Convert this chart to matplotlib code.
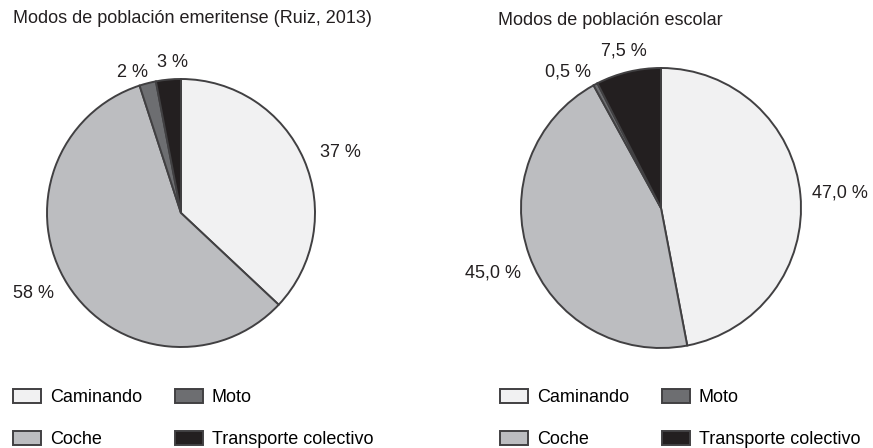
import numpy as np
import matplotlib.pyplot as plt

plt.rcParams['font.family'] = ['Liberation Sans', 'DejaVu Sans']

# datos
categorias = ['Caminando', 'Coche', 'Moto', 'Transporte colectivo']
emeritense = [37, 58, 2, 3]
escolar = [47.0, 45.0, 0.5, 7.5]
etiquetas_emeritense = ['37 %', '58 %', '2 %', '3 %']
etiquetas_escolar = ['47,0 %', '45,0 %', '0,5 %', '7,5 %']
colores = ['#f1f1f2', '#bcbdc0', '#6d6e71', '#231f20']

W, H = 873, 448
fig = plt.figure(figsize=(W / 100, H / 100), dpi=100)
ax = fig.add_axes([0, 0, 1, 1])


def pastel(valores, etiquetas, centro, radio, desplaz, titulo, tx, ty, lx):
    cx, cy = centro[0], H - centro[1]
    wedges, _ = ax.pie(valores, colors=colores, startangle=90, counterclock=False,
                       center=(cx, cy), radius=radio,
                       wedgeprops=dict(edgecolor='#414042', linewidth=1.4))
    # etiquetas de porcentaje, desde el borde de cada sector
    for w, txt, (dx, dy) in zip(wedges, etiquetas, desplaz):
        ang = np.deg2rad((w.theta1 + w.theta2) / 2)
        borde = (cx + radio * np.cos(ang), cy + radio * np.sin(ang))
        ax.annotate(txt, borde, xytext=(dx, dy), textcoords='offset pixels',
                    ha='center', va='center', fontsize=13, color='#231f20')
    ax.text(tx, H - ty, titulo, ha='left', va='center', fontsize=13, color='#231f20')
    leg = ax.legend(wedges, categorias, ncol=2, frameon=False, fontsize=13,
                    loc='upper left', bbox_to_anchor=(lx / W, 1 - 389 / H),
                    bbox_transform=fig.transFigure, borderpad=0, borderaxespad=0,
                    handlelength=1.55, handleheight=0.83, handletextpad=0.5,
                    labelspacing=1.35, columnspacing=1.8)
    return leg


leg1 = pastel(emeritense, etiquetas_emeritense, (181, 213), 134,
              [(36, 7), (-34, -9), (-15, 11), (4, 17)],
              'Modos de población emeritense (Ruiz, 2013)', 13, 18, 13)
ax.add_artist(leg1)
leg2 = pastel(escolar, etiquetas_escolar, (661, 208), 140,
              [(40, 2), (-36, -18), (-27, 12), (-4, 21)],
              'Modos de población escolar', 498, 20, 500)

ax.set_xlim(0, W)
ax.set_ylim(0, H)
ax.set_aspect('auto')
ax.axis('off')

plt.savefig('out.png', dpi=100)
